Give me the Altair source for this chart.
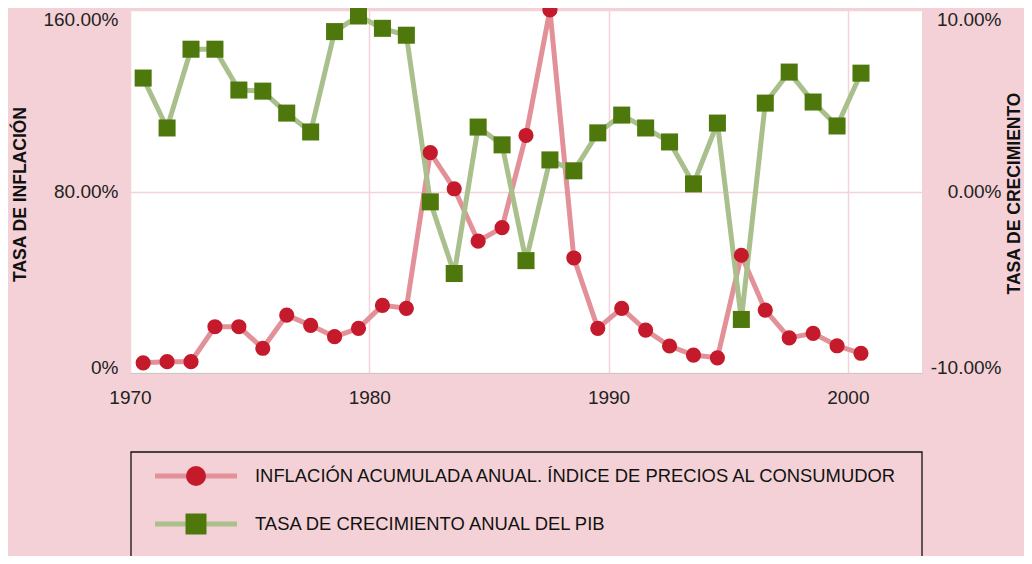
import altair as alt
import pandas as pd

years = list(range(1970, 2001))
inflacion = [4.5, 5.0, 5.0, 20.4, 20.4, 10.9, 25.5, 21.0, 16.0, 19.7, 29.8, 28.5,
             97.1, 81.2, 58.1, 64.1, 104.7, 160.0, 50.7, 19.7, 28.5, 18.9, 11.9,
             7.9, 6.7, 51.9, 27.7, 15.5, 17.5, 12.0, 8.7]
pib = [6.25, 3.5, 7.84, 7.84, 5.59, 5.53, 4.32, 3.28, 8.81, 9.67, 8.99, 8.61,
       -0.57, -4.52, 3.55, 2.57, -3.81, 1.74, 1.14, 3.23, 4.21, 3.5, 2.73,
       0.42, 3.77, -7.05, 4.87, 6.58, 4.93, 3.61, 6.52]
legend_labels = ["INFLACIÓN ACUMULADA ANUAL. ÍNDICE DE PRECIOS AL CONSUMUDOR",
                 "TASA DE CRECIMIENTO ANUAL DEL PIB"]

FONT = "Liberation Sans"
BG = "#F4D1D6"
GRID = "#F3D3D8"
RED_LINE = "#E39199"
RED_PT = "#C41A2B"
GRN_LINE = "#A9BF8C"
GRN_PT = "#4E780C"

df = pd.DataFrame({"year": years, "infl": inflacion, "pib": pib})
base = alt.Chart(df).transform_calculate(pos="datum.year + 0.55")

x_enc = alt.X(
    "pos:Q",
    scale=alt.Scale(domain=[1970, 2003.1], nice=False, zero=False),
    axis=alt.Axis(values=[1970, 1980, 1990, 2000], format="d", grid=True,
                  gridColor=GRID, gridWidth=1.5, domainColor="#C9C9C9",
                  ticks=False, labelPadding=15, labelFontSize=19,
                  labelFlush=False, labelColor="#222222", labelFont=FONT,
                  title=None),
)

y_infl_scale = alt.Scale(domain=[0, 160], nice=False)
y_pib_scale = alt.Scale(domain=[-10, 10], nice=False)

infl_axis = alt.Axis(
    values=[0, 80, 160], orient="left",
    labelExpr="datum.value == 0 ? '0%' : format(datum.value, '.2f') + '%'",
    grid=True, gridColor=GRID, gridWidth=1.5, domain=False, ticks=False,
    labelFlush=False,
    labelBaseline={"expr": "datum.value == 160 ? 'top' : datum.value == 0 ? 'alphabetic' : 'middle'"},
    labelPadding=12, labelFontSize=19, labelColor="#222222",
    labelFont=FONT,
    title="TASA DE INFLACIÓN", titleFont=FONT, titleFontSize=17.5,
    titleFontWeight="bold", titleColor="#111111", titleAngle=270,
    titleX=-110, titleY=184, titleBaseline="middle", titleAlign="center",
)
pib_axis = alt.Axis(
    values=[-10, 0, 10], orient="right",
    labelExpr="replace(format(datum.value, '.2f'), '\u2212', '-') + '%'",
    grid=False, domain=False, ticks=False, tickSize=0, labelAlign="right",
    labelFlush=False,
    labelBaseline={"expr": "datum.value == 10 ? 'top' : datum.value == -10 ? 'alphabetic' : 'middle'"},
    labelPadding=79, labelFontSize=19, labelColor="#222222",
    labelFont=FONT,
    title="TASA DE CRECIMIENTO", titleFont=FONT, titleFontSize=17.5,
    titleFontWeight="bold", titleColor="#111111", titleAngle=270,
    titleX=92, titleY=183, titleBaseline="middle", titleAlign="center",
)

infl_line = base.mark_line(color=RED_LINE, strokeWidth=5).encode(
    x=x_enc, y=alt.Y("infl:Q", scale=y_infl_scale, axis=infl_axis))
pib_line = base.mark_line(color=GRN_LINE, strokeWidth=5).encode(
    x=x_enc, y=alt.Y("pib:Q", scale=y_pib_scale, axis=pib_axis))
infl_pts = base.mark_point(shape="circle", filled=True, color=RED_PT,
                           size=230, opacity=1).encode(
    x=x_enc, y=alt.Y("infl:Q", scale=y_infl_scale, axis=None))
pib_pts = base.mark_point(shape="square", filled=True, color=GRN_PT,
                          size=290, opacity=1).encode(
    x=x_enc, y=alt.Y("pib:Q", scale=y_pib_scale, axis=None))

# Legend (drawn manually below the plot)
box = alt.Chart(pd.DataFrame({"k": [0]})).mark_rect(
    fill="transparent", stroke="#111111", strokeWidth=1.3).encode(
    x=alt.value(1), x2=alt.value(792), y=alt.value(442), y2=alt.value(640))


def legend_row(label, yv, line_color, pt_color, shape, size):
    d = alt.Chart(pd.DataFrame({"label": [label]}))
    ln = d.mark_rule(color=line_color, strokeWidth=5).encode(
        x=alt.value(25), x2=alt.value(107), y=alt.value(yv))
    pt = d.mark_point(shape=shape, filled=True, color=pt_color, size=size,
                      opacity=1).encode(x=alt.value(66), y=alt.value(yv))
    tx = d.mark_text(align="left", baseline="middle", fontSize=18.4, font=FONT,
                     color="#111111").encode(
        x=alt.value(125), y=alt.value(yv), text="label:N")
    return [ln, pt, tx]


leg = legend_row(legend_labels[0], 466, RED_LINE, RED_PT, "circle", 400) + \
    legend_row(legend_labels[1], 514, GRN_LINE, GRN_PT, "square", 440)

chart = alt.layer(infl_line, pib_line, infl_pts, pib_pts, box, *leg).resolve_scale(
    y="independent"
).properties(
    width=792, height=363,
    autosize=alt.AutoSizeParams(type="none"),
    padding={"left": 122, "top": 2, "right": 102, "bottom": 183},
    background=BG,
).configure_view(fill="white", strokeWidth=0)

chart.save("out.html", embed_options={"renderer": "svg", "actions": False})
